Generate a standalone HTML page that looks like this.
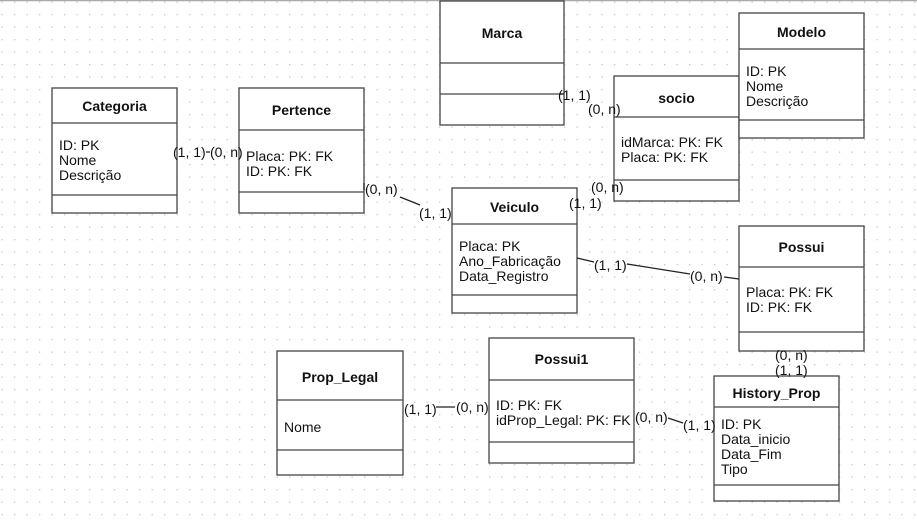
<!DOCTYPE html>
<html><head><meta charset="utf-8"><style>
html,body{margin:0;padding:0;width:917px;height:522px;overflow:hidden;background:#fff}
svg{position:absolute;left:0;top:0}
text{font-family:"Liberation Sans",sans-serif;font-size:14px;fill:#111}
.t{font-weight:bold;text-anchor:middle}
.l{font-size:14px}
</style></head><body>
<svg width="917" height="522" xmlns="http://www.w3.org/2000/svg">
<defs><pattern id="d" x="1.5" y="1.5" width="12.5" height="12.5" patternUnits="userSpaceOnUse"><rect x="0" y="0" width="1.3" height="1.3" fill="#c8c8c8"/></pattern></defs>
<rect width="917" height="522" fill="url(#d)"/>
<line x1="0" y1="0.5" x2="917" y2="0.5" stroke="#aaa" stroke-width="1.5"/>
<g fill="#fff" stroke="#444" stroke-width="1.3">
<rect x="52" y="88" width="125" height="125"/><line x1="52" y1="123" x2="177" y2="123"/><line x1="52" y1="195" x2="177" y2="195"/>
<rect x="239" y="88" width="125" height="125"/><line x1="239" y1="130" x2="364" y2="130"/><line x1="239" y1="192" x2="364" y2="192"/>
<rect x="440" y="1" width="124" height="124"/><line x1="440" y1="63" x2="564" y2="63"/><line x1="440" y1="94" x2="564" y2="94"/>
<rect x="614" y="76" width="125" height="125"/><line x1="614" y1="117" x2="739" y2="117"/><line x1="614" y1="180" x2="739" y2="180"/>
<rect x="739" y="13" width="125" height="125"/><line x1="739" y1="49" x2="864" y2="49"/><line x1="739" y1="120" x2="864" y2="120"/>
<rect x="452" y="188" width="125" height="125"/><line x1="452" y1="224" x2="577" y2="224"/><line x1="452" y1="295" x2="577" y2="295"/>
<rect x="739" y="226" width="125" height="125"/><line x1="739" y1="267" x2="864" y2="267"/><line x1="739" y1="332" x2="864" y2="332"/>
<rect x="277" y="351" width="126" height="124"/><line x1="277" y1="400" x2="403" y2="400"/><line x1="277" y1="450" x2="403" y2="450"/>
<rect x="489" y="338" width="145" height="125"/><line x1="489" y1="380" x2="634" y2="380"/><line x1="489" y1="442" x2="634" y2="442"/>
<rect x="714" y="376" width="125" height="125"/><line x1="714" y1="407" x2="839" y2="407"/><line x1="714" y1="485" x2="839" y2="485"/>
</g>
<g stroke="#222" stroke-width="1.3" fill="none">
<line x1="206" y1="152" x2="210" y2="152"/>
<polyline points="364,183 364,190"/>
<line x1="400" y1="197" x2="420" y2="205"/>
<line x1="564" y1="94" x2="560" y2="94"/>
<line x1="577" y1="258" x2="594" y2="262"/>
<line x1="627" y1="264" x2="690" y2="274"/>
<line x1="724" y1="277" x2="739" y2="279"/>
<line x1="436" y1="407" x2="455" y2="407"/>
<line x1="668" y1="418" x2="683" y2="423"/>
</g>
<text class="t" x="114.5" y="111">Categoria</text>
<text x="59" y="150">ID: PK</text><text x="59" y="165">Nome</text><text x="59" y="180">Descrição</text>
<text class="t" x="301.5" y="115">Pertence</text>
<text x="246" y="161">Placa: PK: FK</text><text x="246" y="176">ID: PK: FK</text>
<text class="t" x="502" y="38">Marca</text>
<text class="t" x="676.5" y="103">socio</text>
<text x="621" y="147">idMarca: PK: FK</text><text x="621" y="162">Placa: PK: FK</text>
<text class="t" x="801.5" y="37">Modelo</text>
<text x="746" y="76">ID: PK</text><text x="746" y="91">Nome</text><text x="746" y="106">Descrição</text>
<text class="t" x="514.5" y="212">Veiculo</text>
<text x="459" y="251">Placa: PK</text><text x="459" y="266">Ano_Fabricação</text><text x="459" y="281">Data_Registro</text>
<text class="t" x="801.5" y="252">Possui</text>
<text x="746" y="297">Placa: PK: FK</text><text x="746" y="312">ID: PK: FK</text>
<text class="t" x="340" y="382">Prop_Legal</text>
<text x="284" y="432">Nome</text>
<text class="t" x="561.5" y="364">Possui1</text>
<text x="496" y="410">ID: PK: FK</text><text x="496" y="425">idProp_Legal: PK: FK</text>
<text class="t" x="776.5" y="398">History_Prop</text>
<text x="721" y="429">ID: PK</text><text x="721" y="444">Data_inicio</text><text x="721" y="459">Data_Fim</text><text x="721" y="474">Tipo</text>
<text class="l" x="173" y="157">(1, 1)</text><text class="l" x="210" y="157">(0, n)</text>
<text class="l" x="365" y="194">(0, n)</text><text class="l" x="419" y="218">(1, 1)</text>
<text class="l" x="558" y="100">(1, 1)</text><text class="l" x="588" y="114">(0, n)</text>
<text class="l" x="591" y="192">(0, n)</text><text class="l" x="569" y="208">(1, 1)</text>
<text class="l" x="594" y="270">(1, 1)</text><text class="l" x="690" y="281">(0, n)</text>
<text class="l" x="775" y="360">(0, n)</text><text class="l" x="775" y="375">(1, 1)</text>
<text class="l" x="404" y="414">(1, 1)</text><text class="l" x="456" y="412">(0, n)</text>
<text class="l" x="635" y="422">(0, n)</text><text class="l" x="683" y="430">(1, 1)</text>
</svg>
</body></html>
